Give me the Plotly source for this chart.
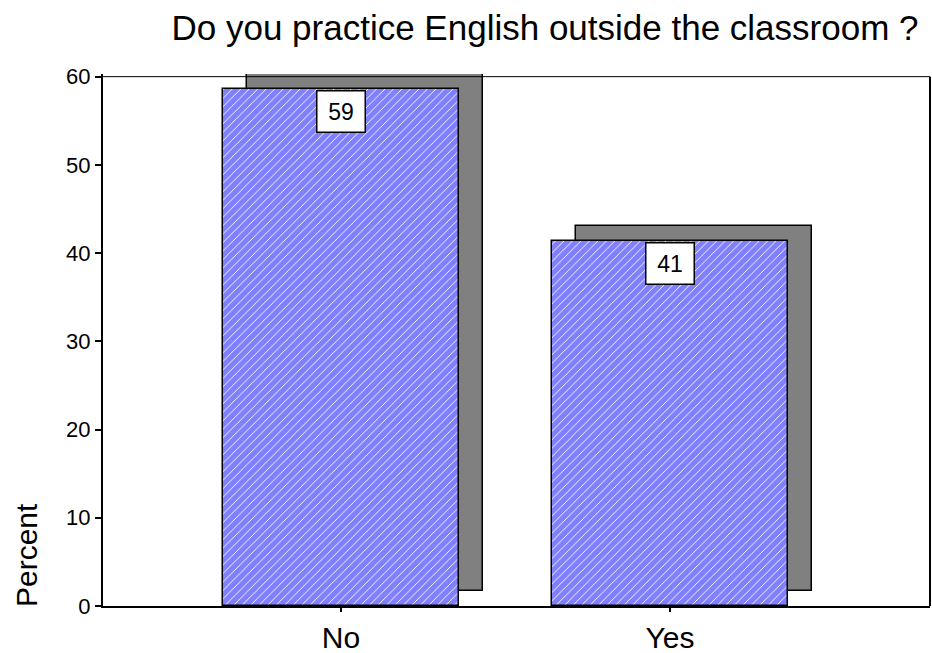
import plotly.graph_objects as go

categories = ["No", "Yes"]
percent = [58.6, 41.4]
labels = [str(round(v)) for v in percent]
y_ticks = [0, 10, 20, 30, 40, 50, 60]

x_pos = list(range(len(categories)))
shadow_dx = 0.073
shadow_dy = 1.7
bar_w = 0.717

fig = go.Figure()
fig.add_trace(go.Bar(
    x=[p + shadow_dx for p in x_pos], y=percent, base=[shadow_dy] * len(percent),
    width=bar_w, marker=dict(color="#808080", line=dict(color="#000000", width=1.5)),
    hoverinfo="skip", showlegend=False, cliponaxis=False,
))
fig.add_trace(go.Bar(
    x=x_pos, y=percent, width=bar_w,
    marker=dict(color="#8080FF", line=dict(color="#000000", width=1.5),
                pattern=dict(shape="/", fgcolor="#FFFFFF", bgcolor="#8080FF", size=6, solidity=0.15)),
    showlegend=False,
))

for xp, v, lab in zip(x_pos, percent, labels):
    fig.add_annotation(x=xp, y=v, xref="x", yref="y", text=lab, showarrow=False,
                       yanchor="top", xanchor="center", yshift=-1, font=dict(size=23, color="black"),
                       bgcolor="white", bordercolor="black", borderwidth=1.5,
                       width=45, height=38, borderpad=1)

fig.add_annotation(text="Percent", x=(26 - 103) / 827, y=(606 - 555) / 532.5, xref="paper", yref="paper",
                   showarrow=False, textangle=-90, font=dict(size=30, color="black"),
                   xanchor="center", yanchor="middle")

# frame top and right
fig.add_shape(type="line", xref="paper", yref="y", x0=0, x1=1, y0=60, y1=60,
              line=dict(color="black", width=1))
fig.add_shape(type="line", xref="paper", yref="paper", x0=1, x1=1, y0=0, y1=60 / 60.3,
              line=dict(color="black", width=2))

fig.update_layout(
    template="none",
    width=932, height=653, autosize=False,
    margin=dict(l=103, r=2, t=73.5, b=47),
    paper_bgcolor="white", plot_bgcolor="white",
    barmode="overlay", bargap=0,
    font=dict(family="Arial, Liberation Sans, sans-serif", color="black"),
    title=dict(text="Do you practice English outside the classroom ?", x=545 / 932, xanchor="center",
               xref="container", y=1 - 28 / 653, yanchor="middle", font=dict(size=35)),
    xaxis=dict(range=[-0.7234, 1.790], tickvals=x_pos, ticktext=categories, showgrid=False,
               zeroline=False, showline=True, linecolor="black", linewidth=2, ticks="outside",
               ticklen=4, tickwidth=1.5, tickcolor="black", tickfont=dict(size=30), automargin=False),
    yaxis=dict(range=[0, 60.3], tickvals=y_ticks, showgrid=False, zeroline=False, showline=True,
               linecolor="black", linewidth=2, ticks="outside", ticklen=6, tickwidth=1.5,
               tickcolor="black", tickfont=dict(size=22), automargin=False),
)

fig.write_html("out.html",
               config={"responsive": False, "displayModeBar": False},
               post_script="document.body.style.margin='0';document.body.style.overflow='hidden';")
